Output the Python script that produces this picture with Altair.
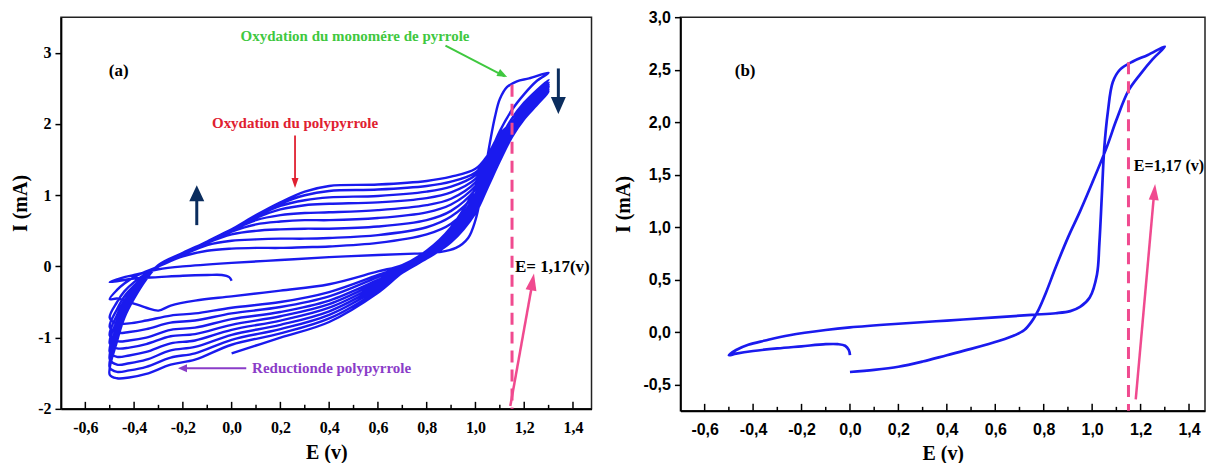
import altair as alt
import pandas as pd

BLUE = "#1a1aee"
NAVY = "#0b2d5e"
PINK = "#f04a8f"
GREEN = "#3fc83f"
RED = "#e02030"
PURPLE = "#8a3cc8"
SERIF = "Liberation Serif"
SANS = "Liberation Sans"

# ---------------- Panel (a): successive cycles ----------------
a_start_E = [0.0, -0.01, -0.04, -0.1, -0.2, -0.3, -0.4, -0.5]
a_start_I = [-0.2, -0.15, -0.12, -0.12, -0.13, -0.15, -0.17, -0.22]

a_c1_fwd_E = [-0.5, -0.45, -0.4, -0.35, -0.3, -0.2, 0.0, 0.2, 0.4, 0.6, 0.75, 0.85, 0.92,
              0.97, 1.0, 1.02, 1.04, 1.06, 1.08, 1.1, 1.13, 1.17, 1.22, 1.3]
a_c1_fwd_I = [-0.22, -0.16, -0.12, -0.08, -0.04, 0.0, 0.05, 0.09, 0.13, 0.16, 0.18, 0.2, 0.26,
              0.4, 0.65, 0.95, 1.35, 1.75, 2.1, 2.35, 2.52, 2.6, 2.64, 2.72]
a_c1_rev_E = [1.3, 1.25, 1.2, 1.15, 1.1, 1.05, 1.0, 0.9, 0.8, 0.7, 0.6, 0.4, 0.2, 0.0,
              -0.15, -0.25, -0.3, -0.35, -0.42, -0.47, -0.5]
a_c1_rev_I = [2.72, 2.6, 2.42, 2.2, 1.9, 1.5, 1.1, 0.55, 0.22, 0.02, -0.07, -0.25, -0.34, -0.42,
              -0.48, -0.55, -0.62, -0.58, -0.5, -0.45, -0.46]

a_fwd_E = [-0.5, -0.47, -0.44, -0.4, -0.35, -0.3, -0.2, -0.1, 0.0, 0.1, 0.2, 0.3, 0.4,
           0.6, 0.8, 0.9, 1.0, 1.05, 1.1, 1.2, 1.3]
a_fwd_I = {
    2: [-0.46, -0.33, -0.24, -0.15, -0.07, 0.0, 0.14, 0.22, 0.25, 0.26, 0.26, 0.27, 0.28, 0.33, 0.45, 0.6, 0.95, 1.3, 1.68, 2.25, 2.62],
    3: [-0.72, -0.5, -0.35, -0.22, -0.1, 0.0, 0.16, 0.3, 0.36, 0.38, 0.39, 0.39, 0.4, 0.44, 0.55, 0.7, 1.02, 1.35, 1.72, 2.22, 2.58],
    4: [-0.85, -0.6, -0.42, -0.27, -0.12, 0.0, 0.17, 0.33, 0.45, 0.5, 0.52, 0.53, 0.53, 0.56, 0.65, 0.78, 1.08, 1.38, 1.74, 2.2, 2.55],
    5: [-0.97, -0.68, -0.48, -0.3, -0.13, 0.0, 0.17, 0.34, 0.49, 0.59, 0.63, 0.65, 0.65, 0.68, 0.76, 0.87, 1.13, 1.42, 1.76, 2.2, 2.53],
    6: [-1.08, -0.76, -0.53, -0.33, -0.14, 0.0, 0.18, 0.35, 0.51, 0.65, 0.72, 0.75, 0.76, 0.79, 0.86, 0.95, 1.18, 1.45, 1.78, 2.18, 2.51],
    7: [-1.2, -0.84, -0.58, -0.36, -0.15, 0.01, 0.18, 0.35, 0.52, 0.68, 0.8, 0.86, 0.88, 0.9, 0.96, 1.04, 1.23, 1.48, 1.8, 2.18, 2.5],
    8: [-1.3, -0.91, -0.63, -0.39, -0.16, 0.01, 0.18, 0.35, 0.52, 0.7, 0.85, 0.93, 0.97, 0.99, 1.05, 1.12, 1.28, 1.5, 1.82, 2.17, 2.48],
    9: [-1.42, -0.98, -0.68, -0.42, -0.17, 0.02, 0.19, 0.35, 0.52, 0.71, 0.88, 1.0, 1.06, 1.08, 1.13, 1.19, 1.32, 1.53, 1.84, 2.16, 2.47],
    10: [-1.52, -1.05, -0.72, -0.45, -0.18, 0.02, 0.19, 0.35, 0.52, 0.72, 0.9, 1.05, 1.13, 1.15, 1.2, 1.26, 1.37, 1.56, 1.86, 2.15, 2.45],
}
a_rev_E = [1.3, 1.25, 1.2, 1.15, 1.1, 1.05, 1.0, 0.9, 0.8, 0.7, 0.6, 0.4, 0.2, 0.0,
           -0.15, -0.25, -0.35, -0.42, -0.47, -0.5]
a_rev_I = {
    2: [2.62, 2.47, 2.3, 2.08, 1.78, 1.4, 1.02, 0.5, 0.19, 0.0, -0.12, -0.36, -0.5, -0.58, -0.66, -0.69, -0.76, -0.80, -0.80, -0.72],
    3: [2.58, 2.42, 2.25, 2.02, 1.72, 1.35, 0.98, 0.48, 0.18, -0.02, -0.15, -0.42, -0.57, -0.66, -0.76, -0.79, -0.88, -0.92, -0.93, -0.85],
    4: [2.55, 2.39, 2.21, 1.98, 1.68, 1.31, 0.94, 0.46, 0.17, -0.03, -0.19, -0.48, -0.64, -0.74, -0.86, -0.89, -1.0, -1.04, -1.05, -0.97],
    5: [2.53, 2.36, 2.18, 1.95, 1.64, 1.27, 0.9, 0.44, 0.16, -0.04, -0.22, -0.53, -0.7, -0.82, -0.95, -0.98, -1.09, -1.14, -1.15, -1.08],
    6: [2.51, 2.34, 2.15, 1.92, 1.6, 1.23, 0.87, 0.42, 0.15, -0.05, -0.25, -0.58, -0.76, -0.89, -1.04, -1.08, -1.2, -1.25, -1.27, -1.2],
    7: [2.5, 2.32, 2.13, 1.89, 1.57, 1.2, 0.84, 0.4, 0.14, -0.06, -0.28, -0.63, -0.82, -0.96, -1.13, -1.18, -1.31, -1.36, -1.38, -1.3],
    8: [2.48, 2.3, 2.11, 1.86, 1.54, 1.17, 0.81, 0.38, 0.13, -0.07, -0.31, -0.68, -0.88, -1.03, -1.22, -1.28, -1.41, -1.46, -1.48, -1.42],
    9: [2.47, 2.28, 2.09, 1.84, 1.51, 1.14, 0.78, 0.36, 0.12, -0.08, -0.34, -0.73, -0.94, -1.1, -1.31, -1.38, -1.51, -1.56, -1.57, -1.52],
    10: [2.45, 2.26, 2.07, 1.82, 1.48, 1.11, 0.75, 0.34, 0.11, -0.09, -0.37, -0.78, -1.0, -1.22],
}

# ---------------- Panel (b): first cycle ----------------
b_start_E = [0.0, -0.005, -0.02, -0.05, -0.1, -0.2, -0.3, -0.4, -0.47, -0.5]
b_start_I = [-0.22, -0.17, -0.13, -0.115, -0.115, -0.135, -0.155, -0.18, -0.205, -0.22]
b_fwd_E = [-0.5, -0.47, -0.42, -0.35, -0.25, -0.1, 0.0, 0.2, 0.4, 0.6, 0.75, 0.85, 0.91, 0.95,
           0.99, 1.02, 1.03, 1.04, 1.05, 1.065, 1.085, 1.115, 1.17, 1.23, 1.3]
b_fwd_I = [-0.22, -0.17, -0.12, -0.08, -0.03, 0.02, 0.045, 0.08, 0.11, 0.14, 0.165, 0.18, 0.2, 0.24,
           0.33, 0.55, 0.85, 1.3, 1.75, 2.1, 2.38, 2.5, 2.58, 2.64, 2.72]
b_rev_E = [1.3, 1.25, 1.2, 1.15, 1.1, 1.06, 1.0, 0.95, 0.9, 0.85, 0.81, 0.78, 0.75, 0.72,
           0.68, 0.62, 0.5, 0.4, 0.3, 0.2, 0.1, 0.0]
b_rev_I = [2.72, 2.6, 2.46, 2.3, 2.02, 1.76, 1.42, 1.15, 0.9, 0.62, 0.38, 0.22, 0.1, 0.02,
           -0.03, -0.08, -0.16, -0.22, -0.28, -0.33, -0.36, -0.38]

# ---------------- Axis ticks ----------------
x_major = [-0.6, -0.4, -0.2, 0.0, 0.2, 0.4, 0.6, 0.8, 1.0, 1.2, 1.4]
x_minor = [-0.5, -0.3, -0.1, 0.1, 0.3, 0.5, 0.7, 0.9, 1.1, 1.3]
ya_ticks = [-2, -1.5, -1, -0.5, 0, 0.5, 1, 1.5, 2, 2.5, 3]
yb_ticks = [-0.5, -0.25, 0.0, 0.25, 0.5, 0.75, 1.0, 1.25, 1.5, 1.75, 2.0, 2.25, 2.5, 2.75, 3.0]

# ---------------- Annotations ----------------
a_labels_text = ["(a)", "E= 1,17(v)"]
a_labels_E = [-0.463, 1.162]
a_labels_I = [2.75, -0.01]
a_green_text, a_green_E, a_green_I = "Oxydation du monomére de pyrrole", 0.506, 3.24
a_red_text, a_red_E, a_red_I = "Oxydation du polypyrrole", 0.26, 2.02
a_purple_text, a_purple_E, a_purple_I = "Reductionde polypyrrole", 0.41, -1.43
a_dash = {"E": 1.15, "I": 2.55, "I2": -2.0}
b_labels_text = ["(b)", "E=1,17 (v)"]
b_labels_E = [-0.433, 1.172]
b_labels_I = [2.49, 1.58]
b_dash = {"E": 1.15, "I": 2.57, "I2": -0.75}

# arrows: shaft start, shaft end, tip
a_arrows = [
    # (E0, I0, E1, I1, Etip, Itip)
    (0.877, 3.10, 1.12, 2.67, 1.13, 2.66),     # green
    (0.26, 1.84, 0.26, 1.16, 0.26, 1.10),      # red
    (0.06, -1.43, -0.20, -1.43, -0.22, -1.43),  # purple
    (-0.143, 0.58, -0.143, 1.0, -0.143, 1.14),  # navy up
    (1.34, 2.78, 1.34, 2.3, 1.34, 2.14),       # navy down
    (1.143, -1.96, 1.23, -0.3, 1.24, -0.1),    # pink
]
b_arrow = (1.18, -0.64, 1.255, 1.3, 1.26, 1.41)


def path_frame(parts):
    rows, k = [], 0
    for j, (Es, Is) in enumerate(parts):
        for n, (e, i) in enumerate(zip(Es, Is)):
            if j > 0 and n == 0:
                continue
            rows.append({"E": e, "I": i, "k": k})
            k += 1
    return pd.DataFrame(rows)


parts_a = [(a_start_E, a_start_I), (a_c1_fwd_E, a_c1_fwd_I), (a_c1_rev_E, a_c1_rev_I)]
for c in range(2, 11):
    parts_a.append((a_fwd_E, a_fwd_I[c]))
    parts_a.append((a_rev_E[:len(a_rev_I[c])], a_rev_I[c]))
df_a = path_frame(parts_a)
df_b = path_frame([(b_start_E, b_start_I), (b_fwd_E, b_fwd_I), (b_rev_E, b_rev_I)])

xs_a = alt.Scale(domain=[-0.7, 1.476], nice=False, zero=False)
ys_a = alt.Scale(domain=[-2, 3.5], nice=False, zero=False)
xs_b = alt.Scale(domain=[-0.7, 1.466], nice=False, zero=False)
ys_b = alt.Scale(domain=[-0.75, 3.0], nice=False, zero=False)

X_LABEL = "replace((datum.value < -0.001 ? '-' : '') + format(abs(datum.value), '.1f'), '.', ',')"


def x_axis(label_font, label_size, title_y):
    return alt.Axis(values=x_major, labelExpr=X_LABEL, ticks=False, tickSize=0, labelPadding=11,
                    labelFont=label_font, labelFontWeight="bold", labelFontSize=label_size,
                    labelFlush=False, labelOverlap=False, grid=False,
                    title="E (v)", titleFont=SERIF, titleFontWeight="bold", titleFontSize=20,
                    titleY=title_y, titleBaseline="middle")


axis_ya = alt.Axis(values=ya_ticks,
                   labelExpr="datum.value % 1 == 0 ? ((datum.value < 0 ? '-' : '') + format(abs(datum.value), 'd')) : ''",
                   tickSize={"condition": {"test": "datum.value % 1 == 0", "value": 6}, "value": 3},
                   labelFont=SERIF, labelFontWeight="bold", labelFontSize=16, labelPadding=4,
                   labelOverlap=False, grid=False,
                   title="I (mA)", titleFont=SERIF, titleFontWeight="bold", titleFontSize=20,
                   titleX=-40, titleY=186, titleBaseline="middle")
axis_yb = alt.Axis(values=yb_ticks,
                   labelExpr="round(datum.value*4) % 2 == 0 ? replace((datum.value < 0 ? '-' : '') + format(abs(datum.value), '.1f'), '.', ',') : ''",
                   tickSize={"condition": {"test": "round(datum.value*4) % 2 == 0", "value": 6}, "value": 3},
                   labelFont=SANS, labelFontWeight="bold", labelFontSize=16, labelPadding=4,
                   labelOverlap=False, grid=False,
                   title="I (mA)", titleFont=SERIF, titleFontWeight="bold", titleFontSize=20,
                   titleX=-57, titleY=187, titleBaseline="middle")


def enc(xs, ys):
    return dict(x=alt.X("E:Q", scale=xs), y=alt.Y("I:Q", scale=ys))


def arrow(spec, xs, ys, color, width, L, W, angle):
    e0, i0, e1, i1, et, it = spec
    shaft = alt.Chart(pd.DataFrame({"E": [e0], "I": [i0], "E2": [e1], "I2": [i1]})).mark_rule(
        color=color, strokeWidth=width).encode(**enc(xs, ys), x2="E2:Q", y2="I2:Q")
    half = W / (2.0 * L)
    head = alt.Chart(pd.DataFrame({"E": [et], "I": [it]})).mark_point(
        shape=f"M0,0L{half:.3f},1L-{half:.3f},1Z", size=4 * L * L, angle=angle,
        filled=True, opacity=1, color=color, strokeWidth=0).encode(**enc(xs, ys))
    return [shaft, head]


def inner_ticks(xs, ys, h):
    tmaj = alt.Chart(pd.DataFrame({"E": x_major})).mark_rule(color="black", strokeWidth=1.5).encode(
        x=alt.X("E:Q", scale=xs), y=alt.value(h), y2=alt.value(h - 7))
    tmin = alt.Chart(pd.DataFrame({"E": x_minor})).mark_rule(color="black", strokeWidth=1.5).encode(
        x=alt.X("E:Q", scale=xs), y=alt.value(h), y2=alt.value(h - 4))
    return [tmaj, tmin]


def text_layer(texts, Es, Is, xs, ys, color, size, align):
    return alt.Chart(pd.DataFrame({"E": Es, "I": Is, "t": texts})).mark_text(
        font=SERIF, fontWeight="bold", fontSize=size, color=color, align=align, baseline="middle"
    ).encode(**enc(xs, ys), text="t:N")


HA, HB = 392, 394

# ---- left panel ----
lines_a = alt.Chart(df_a).mark_line(color=BLUE, strokeWidth=2.4, interpolate="catmull-rom").encode(
    x=alt.X("E:Q", scale=xs_a, axis=x_axis(SERIF, 16, 44)),
    y=alt.Y("I:Q", scale=ys_a, axis=axis_ya),
    order=alt.Order("k:Q"))
dash_a = alt.Chart(pd.DataFrame([a_dash])).mark_rule(color=PINK, strokeWidth=3, strokeDash=[12, 7]).encode(
    **enc(xs_a, ys_a), y2="I2:Q")
layers_a = [lines_a, dash_a] + inner_ticks(xs_a, ys_a, HA)
layers_a += arrow(a_arrows[0], xs_a, ys_a, GREEN, 2, 10, 8, 117)
layers_a += arrow(a_arrows[1], xs_a, ys_a, RED, 1.8, 10, 7, 180)
layers_a += arrow(a_arrows[2], xs_a, ys_a, PURPLE, 2, 9, 8, 270)
layers_a += arrow(a_arrows[3], xs_a, ys_a, NAVY, 3, 16, 15, 0)
layers_a += arrow(a_arrows[4], xs_a, ys_a, NAVY, 3, 17, 15, 180)
layers_a += arrow(a_arrows[5], xs_a, ys_a, PINK, 2.5, 17, 11, 10)
layers_a.append(text_layer(a_labels_text[:1], a_labels_E[:1], a_labels_I[:1], xs_a, ys_a, "black", 17, "center"))
layers_a.append(text_layer(a_labels_text[1:], a_labels_E[1:], a_labels_I[1:], xs_a, ys_a, "black", 17, "left"))
layers_a.append(text_layer([a_green_text], [a_green_E], [a_green_I], xs_a, ys_a, GREEN, 15, "center"))
layers_a.append(text_layer([a_red_text], [a_red_E], [a_red_I], xs_a, ys_a, RED, 15, "center"))
layers_a.append(text_layer([a_purple_text], [a_purple_E], [a_purple_I], xs_a, ys_a, PURPLE, 15, "center"))
left = alt.layer(*layers_a).properties(width=531, height=HA)

# ---- right panel ----
lines_b = alt.Chart(df_b).mark_line(color=BLUE, strokeWidth=2.7, interpolate="catmull-rom").encode(
    x=alt.X("E:Q", scale=xs_b, axis=x_axis(SANS, 16, 43)),
    y=alt.Y("I:Q", scale=ys_b, axis=axis_yb),
    order=alt.Order("k:Q"))
dash_b = alt.Chart(pd.DataFrame([b_dash])).mark_rule(color=PINK, strokeWidth=3, strokeDash=[12, 7]).encode(
    **enc(xs_b, ys_b), y2="I2:Q")
layers_b = [lines_b, dash_b] + inner_ticks(xs_b, ys_b, HB)
layers_b += arrow(b_arrow, xs_b, ys_b, PINK, 2.5, 16, 10, 5)
layers_b.append(text_layer(b_labels_text[:1], b_labels_E[:1], b_labels_I[:1], xs_b, ys_b, "black", 17, "center"))
layers_b.append(text_layer(b_labels_text[1:], b_labels_E[1:], b_labels_I[1:], xs_b, ys_b, "black", 16, "left"))
right = alt.layer(*layers_b).properties(width=525, height=HB)

chart = alt.hconcat(left, right, spacing=89).properties(
    padding={"left": 2, "top": 0, "right": 0, "bottom": 0}, bounds="flush"
).configure_view(stroke="#222222", strokeWidth=1.5).configure_axis(
    domainColor="black", domainWidth=1.8, tickColor="black", tickWidth=1.5,
    labelColor="black", titleColor="black"
)

chart.save("out.html", embed_options={"renderer": "svg", "actions": False})
